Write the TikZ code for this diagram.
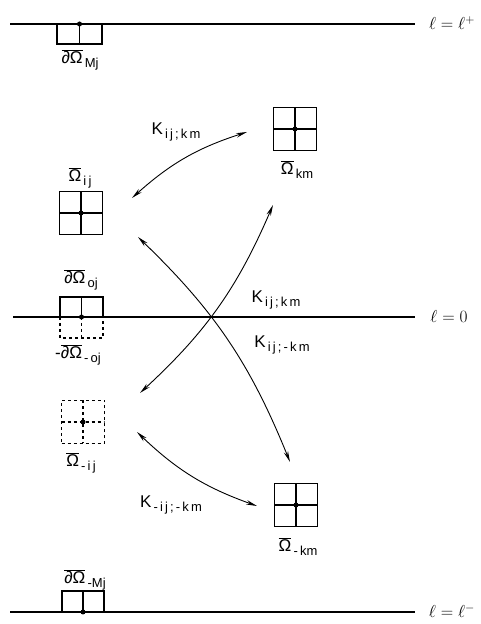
\documentclass[tikz,border=0pt]{standalone}
\usepackage{fontspec}
\setmainfont{Liberation Sans}
\usetikzlibrary{arrows.meta}
\newcommand{\ovl}[1]{$\overline{\mbox{#1}}$}
\newcommand{\sub}[1]{\raisebox{-4pt}{\fontsize{13}{15}\selectfont\,#1}}
\begin{document}
\begin{tikzpicture}[x=1pt, y=1pt,
  every node/.style={font=\fontsize{17}{20}\selectfont},
  level/.style={line width=1.1pt},
  cell/.style={draw, line width=1.6pt, minimum size=43pt, inner sep=0pt,
    path picture={\draw[line width=1.6pt] (path picture bounding box.north) -- (path picture bounding box.south)
      (path picture bounding box.west) -- (path picture bounding box.east);}},
  dashcell/.style={cell, dashed, path picture={\draw[line width=1.2pt, dashed] (path picture bounding box.north) -- (path picture bounding box.south)
      (path picture bounding box.west) -- (path picture bounding box.east);}},
  kar/.style={{Stealth[length=11pt,width=4.5pt]}-{Stealth[length=11pt,width=4.5pt]}, line width=0.9pt}]
  \useasboundingbox (0,0) rectangle (481,624);
  % levels
  \draw[level] (10,600) -- (415,600);
  \draw[level] (13,307) -- (415,307);
  \draw[level] (10,12) -- (415,12);
  \node (lp) at (452,601) {$\ell = \ell^{+}$};
  \node (l0) at (449,307) {$\ell = 0$};
  \node (lm) at (452,13) {$\ell = \ell^{-}$};
  % boundary half cells
  \draw[line width=1.6pt] (57,600) rectangle (102,580) (79.5,600) -- (79.5,580);
  \fill (79.5,600) circle (2.5pt);
  \draw[line width=1.6pt] (60,307) rectangle (103,327) (81.5,307) -- (81.5,327);
  \draw[line width=1.2pt, dashed] (60,307) -- (60,286) -- (103,286) -- (103,307) (81.5,307) -- (81.5,286);
  \fill (81.5,307) circle (2.5pt);
  \draw[line width=1.6pt] (62,12) rectangle (104,33) (83,12) -- (83,33);
  \fill (83,12) circle (2.5pt);
  % cells
  \node[cell] (ij) at (81,411) {};
  \node[cell] (km) at (295,495) {};
  \node[dashcell] (mij) at (83,202) {};
  \node[cell] (mkm) at (296,119) {};
  \foreach \c in {ij,km,mij,mkm} \fill (\c) circle (2.5pt);
  % labels
  \node (tMj) at (80,564) {\ovl{∂Ω}\sub{Mj}};
  \node (tij) at (80,446) {\ovl{Ω}\sub{i\,j}};
  \node (tkm) at (297,454) {\ovl{Ω}\sub{km}};
  \node (toj) at (81,344) {\ovl{∂Ω}\sub{oj}};
  \node (tmoj) at (78,269) {-\ovl{∂Ω}\sub{-\,oj}};
  \node (tmij) at (81,161) {\ovl{Ω}\sub{-\,i\,j}};
  \node (tmkm) at (298,77) {\ovl{Ω}\sub{-\,km}};
  \node (tmMj) at (85,44) {\ovl{∂Ω}\sub{-Mj}};
  % couplings
  \draw[kar] ([shift={(51,15)}]ij.center) to[bend left=12] ([shift={(-48,-3)}]km.center);
  \draw[kar] ([shift={(57,-24)}]ij.center) to[bend left=12] ([shift={(-6,43)}]mkm.center);
  \draw[kar] ([shift={(-22,-76)}]km.center) to[bend left=12] ([shift={(57,29)}]mij.center);
  \draw[kar] ([shift={(54,-10)}]mij.center) to[bend right=12] ([shift={(-39,-1)}]mkm.center);
  \node (k1) at (176,492) {K\sub{i\,j\,;\,k\,m}};
  \node (k2) at (276,324) {K\sub{i\,j\,;\,k\,m}};
  \node (k3) at (282,279) {K\sub{i\,j\,;\,-\,k\,m}};
  \node (k4) at (171,119) {K\sub{-\,i\,j\,;\,-\,k\,m}};
\end{tikzpicture}
\end{document}
